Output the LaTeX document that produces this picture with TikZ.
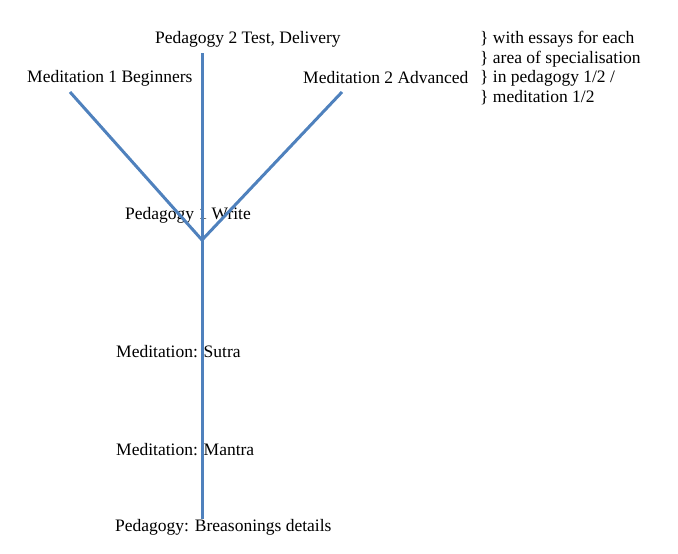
\documentclass[tikz,border=0pt]{standalone}
\usepackage{fontspec}
\setmainfont{Liberation Serif}
\begin{document}
\begin{tikzpicture}[x=1pt,y=-1pt,
    branch/.style={line width=3pt,color=branchblue},
    label/.style={anchor=west,inner sep=0pt,font=\fontsize{17.5}{19.7}\selectfont}]
        \definecolor{branchblue}{RGB}{79,129,189}
        \useasboundingbox (0,0) rectangle (678,554);
        %% Labels
        \node[label] (ped2) at (155,39) {Pedagogy 2 Test, Delivery};
        \node[label] (med1) at (27,78) {Meditation 1 Beginners};
        \node[label] (med2) at (303,78) {Meditation 2 Advanced};
        \node[label] (ped1) at (125,215) {Pedagogy 1 Write};
        \node[label] (sutra) at (116,352) {Meditation: Sutra};
        \node[label] (mantra) at (116,450) {Meditation: Mantra};
        \node[label] (breas) at (115,527) {Pedagogy: Breasonings details};
        \node[label,align=left] (note) at (480,68) {\} with essays for each\\\} area of specialisation\\\} in pedagogy 1/2 /\\\} meditation 1/2};
        %% Branches
        \coordinate (top) at (202,53);
        \coordinate (bottom) at (202,519);
        \coordinate (fork) at (202,240);
        \coordinate (left) at (70,92);
        \coordinate (right) at (342,92);
        \draw[branch] (top) -- (bottom);
        \draw[branch] (left) -- (fork) -- (right);
    \end{tikzpicture}
\end{document}
